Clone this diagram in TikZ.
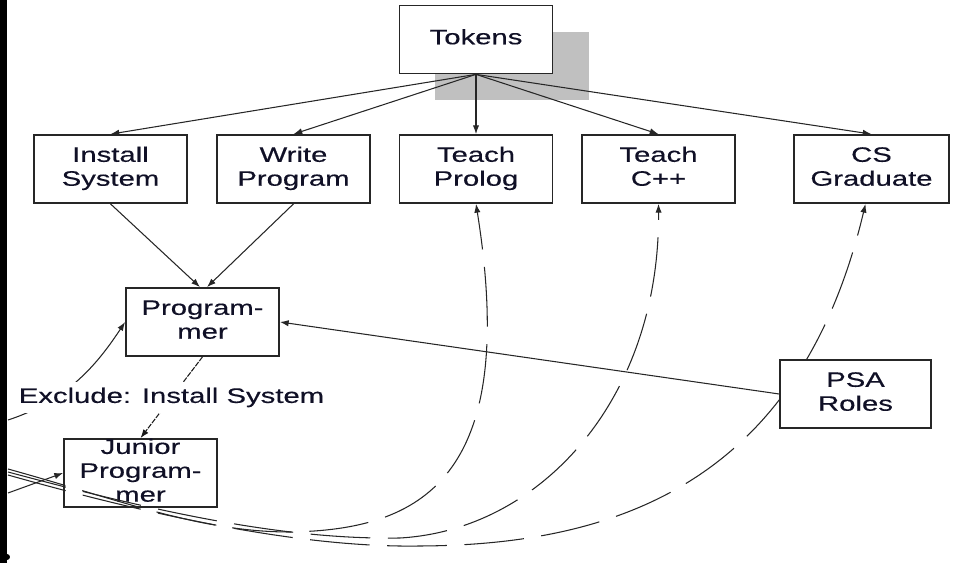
\documentclass[tikz,border=0pt]{standalone}
\usepackage{fontspec}
\setmainfont{Liberation Sans}[BoldFont=Liberation Sans, BoldFeatures={FakeBold=0.3}]
\usepackage{graphicx}
\usepackage{tikz}
\usetikzlibrary{arrows.meta}

\definecolor{shadowgray}{RGB}{192,192,192}
\definecolor{inkc}{RGB}{16,16,38}
\newcommand{\boxtext}[1]{\scalebox{1.4}[1]{\begin{tabular}{@{}c@{}}#1\end{tabular}}}

\begin{document}
\begin{tikzpicture}[>={Latex[length=5pt,width=3.6pt]},
    font=\fontsize{11.9}{13.6}\selectfont\bfseries,
    role/.style={draw=black!85, line width=1pt, fill=white, text=inkc,
        minimum width=3.06cm, minimum height=1.36cm, inner xsep=0pt, inner ysep=0pt},
    link/.style={->, line width=0.6pt, black!85},
    excl/.style={->, line width=0.6pt, black!90, dash pattern=on 3pt off 0.7pt},
    longdash/.style={->, line width=0.6pt, black!85, dash pattern=on 34pt off 10pt}]
                \useasboundingbox (0,0) rectangle (19.10,11.26);
                \fill[black] (0,0) rectangle (0.14,11.26);
                \fill[black] (0.14,0.12) circle (0.06);
                
                \fill[shadowgray] (8.70,10.62) rectangle (11.78,9.26);
                \node[role] (tokens) at (9.52,10.47) {\boxtext{Tokens}};
                
                \node[role] (install) at (2.21,7.88) {\boxtext{Install\\System}};
                \node[role] (write) at (5.87,7.88) {\boxtext{Write\\Program}};
                \node[role] (prolog) at (9.52,7.88) {\boxtext{Teach\\Prolog}};
                \node[role] (cpp) at (13.17,7.88) {\boxtext{Teach\\C++}};
                \node[role, minimum width=3.10cm] (csgrad) at (17.43,7.88) {\boxtext{CS\\Graduate}};
                \node[role] (prog) at (4.05,4.82) {\boxtext{Program-\\mer}};
                \node[role, inner ysep=-1.2pt] (junior) at (2.81,1.80) {\boxtext{Junior\\Program-\\mer}};
                
                \foreach \t in {install, write, prolog, cpp, csgrad}
                    \draw[link] (tokens.south) -- (\t.north);
                \draw[link] (install.south) -- ([xshift=-0.05cm]prog.north);
                \draw[link] (write.south) -- ([xshift=0.09cm]prog.north);
                
                % from the left edge
                \coordinate (inprog) at (0.16,2.86);
                \coordinate (injun) at (0.16,1.40);
                \draw[link] (inprog) .. controls (1.40,3.26) and (2.00,4.06) .. (prog.west);
                \draw[link] (injun) -- (junior.west);
                
                \draw[excl] (prog.south) -- (junior.north)
                    node[midway, fill=white, text=inkc] (exclude) {\scalebox{1.4}[1]{Exclude: Install System}};
                
                % dashed curves along the bottom
                \coordinate (outprolog) at (0.16,1.88);
                \coordinate (outcpp) at (0.16,1.82);
                \coordinate (outcs) at (0.16,1.76);
                \draw[longdash] (outprolog) .. controls (2.40,1.26) and (4.00,0.62) .. (5.80,0.62)
                    .. controls (8.40,0.66) and (10.40,1.66) .. (prolog.south);
                \draw[longdash] (outcpp) .. controls (3.00,1.06) and (5.60,0.46) .. (8.00,0.50)
                    .. controls (10.80,0.66) and (13.20,3.26) .. (cpp.south);
                \draw[longdash] (outcs) .. controls (3.00,0.96) and (6.00,0.30) .. (8.40,0.34)
                    .. controls (12.40,0.36) and (16.00,1.66) .. ([xshift=-0.12cm]csgrad.south);
                
                \node[role, minimum width=3.02cm] (psa) at (17.11,3.38) {\boxtext{PSA\\Roles}};
                \draw[link] (psa.west) -- (prog.east);
            \end{tikzpicture}
\end{document}
